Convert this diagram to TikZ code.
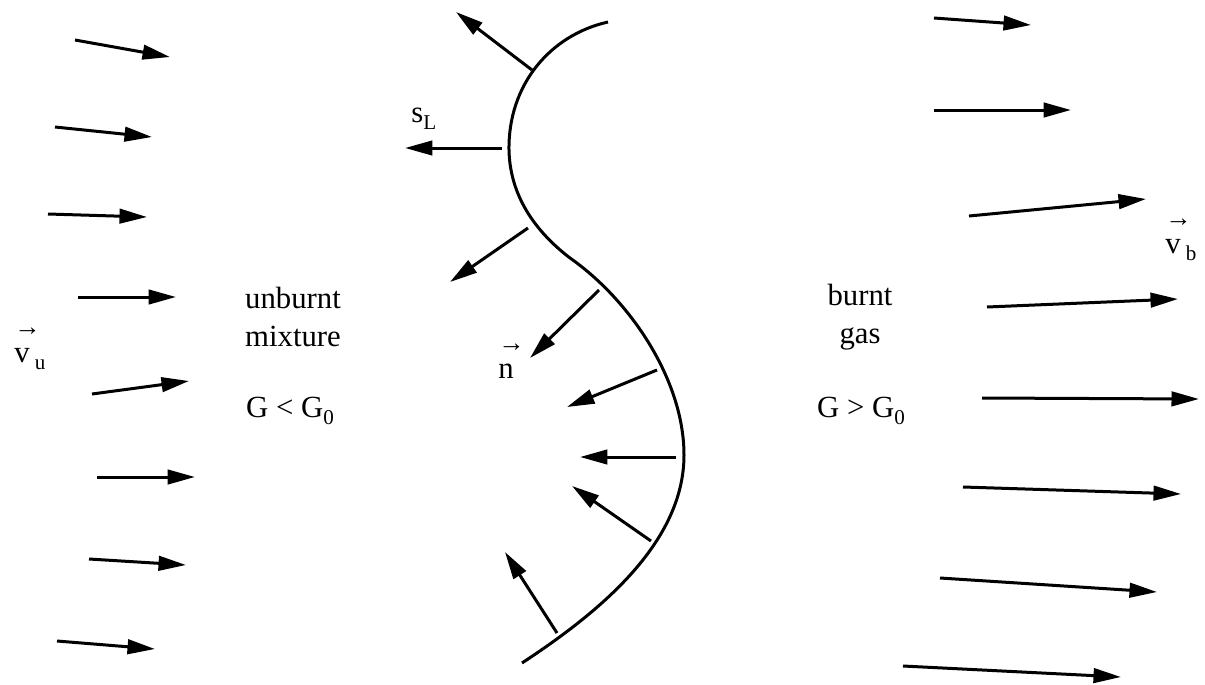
\documentclass[tikz,border=0pt]{standalone}
\usepackage{fontspec}
\setmainfont{Liberation Serif}
\usetikzlibrary{arrows.meta}
\newcommand{\lowsub}[1]{\raisebox{-4.5pt}{\fontsize{12}{12}\selectfont #1}}
\newcommand{\vecsym}[2]{\makebox[0pt][l]{\raisebox{15pt}{\fontsize{15}{15}\selectfont →}}#1\,\lowsub{#2}}
\tikzset{
  vecarr/.style={-{Triangle[length=0.55cm,width=0.29cm]},line width=0.06cm},
  front/.style={line width=0.06cm},
  lbl/.style={font=\fontsize{17.5}{21.5}\selectfont,align=center,inner sep=0pt}
}

\begin{document}
\begin{tikzpicture}[x=0.02cm,y=-0.02cm]
  \useasboundingbox (0,0) rectangle (1205,684);

  % flame front
  \draw[front] (608,22) .. controls (550,35) and (508,85) .. (509,150)
     .. controls (510,200) and (540,235) .. (570,258)
     .. controls (630,300) and (684,380) .. (684,455)
     .. controls (684,545) and (595,615) .. (522,663);

  % unburnt side velocity
  \foreach \xa/\ya/\xb/\yb in {75/40/170/57, 55/127/152/137, 48/214/147/217,
      78/297/176/297, 92/394/189/381, 97/477/195/477, 89/559/186/565,
      57/641/155/649}
    \draw[vecarr] (\xa,\ya) -- (\xb,\yb);

  % burnt side velocity
  \foreach \xa/\ya/\xb/\yb in {934/18/1031/25, 934/110/1071/110,
      969/216/1146/199, 987/307/1178/299, 982/398/1199/399,
      963/487/1181/494, 940/578/1157/592, 903/666/1121/677}
    \draw[vecarr] (\xa,\ya) -- (\xb,\yb);

  % normals on the front
  \foreach \xa/\ya/\xb/\yb in {532/70/456/12, 502/148/405/148,
      528/228/450/282, 599/290/530/358, 657/370/567/407,
      676/457/580/457, 651/541/572/486, 557/633/505/552}
    \draw[vecarr] (\xa,\ya) -- (\xb,\yb);

  % labels
  \node[lbl] (unburnt) at (293,317) {unburnt\\mixture};
  \node[lbl,anchor=base] (Gless) at (290,417) {G < G\lowsub{0}};
  \node[lbl] (burnt) at (860,317) {burnt\\gas};
  \node[lbl,anchor=base] (Gmore) at (861,417) {G > G\lowsub{0}};
  \node[lbl,anchor=base west] (sL) at (411,122) {s\lowsub{L}};
  \node[lbl,anchor=base west] (vu) at (14,362) {\vecsym{v}{u}};
  \node[lbl,anchor=base west] (vb) at (1165,253) {\vecsym{v}{b}};
  \node[lbl,anchor=base west] (nvec) at (498,378) {\vecsym{n}{}};
\end{tikzpicture}
\end{document}
